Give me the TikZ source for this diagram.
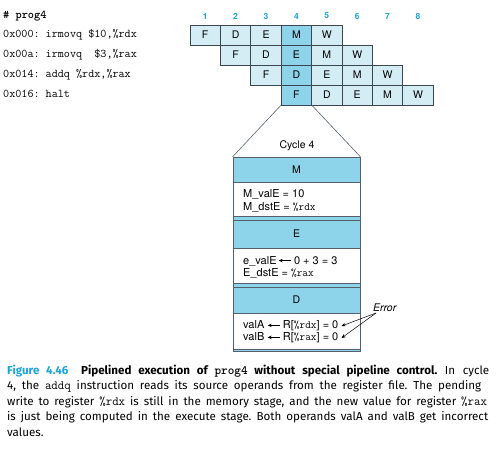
\documentclass[tikz,border=0pt]{standalone}
\usepackage{fontspec}
\setsansfont{TeX Gyre Heros}
\newfontfamily\capfont{Fira Sans}
\usetikzlibrary{arrows.meta}
\definecolor{cellL}{HTML}{D4EDF4}
\definecolor{cellD}{HTML}{8DD3E9}
\definecolor{cyanT}{HTML}{1BA3DB}
\definecolor{lineC}{HTML}{3A4650}
\definecolor{boxC}{HTML}{55606A}
\newcommand\larr{\tikz[baseline=-0.6ex]\draw[line width=0.5pt,-{Stealth[length=4pt,width=3.5pt]}](12pt,0pt)--(0pt,0pt);}
\newcommand\captt[1]{{\ttfamily\fontsize{12.6}{13}\selectfont #1}}
\begin{document}
\frenchspacing
\begin{tikzpicture}[x=1pt,y=-1pt,
  cell/.style={draw=lineC,line width=0.8pt,fill=cellL,minimum width=30.4pt,minimum height=20pt,inner sep=0pt,font=\sffamily\fontsize{10.5}{12}\selectfont},
  hot/.style={cell,fill=cellD},
  num/.style={text=cyanT,font=\sffamily\bfseries\fontsize{8.5}{10}\selectfont},
  code/.style={anchor=west,inner sep=0pt,font=\ttfamily\fontsize{11.8}{13}\selectfont},
  sect/.style={draw=boxC,line width=0.6pt,minimum width=127pt,inner sep=0pt,font=\sffamily\fontsize{10.5}{12}\selectfont},
  hdr/.style={sect,fill=cellD},
  wht/.style={sect,fill=white},
  val/.style={anchor=west,inner sep=0pt,font=\sffamily\fontsize{11}{12}\selectfont},
  capl/.style={anchor=base west,inner sep=0pt,font=\capfont\fontsize{11.6}{13}\selectfont}
]
\useasboundingbox (0,0) rectangle (497,461);
% program
\node[code,font=\ttfamily\bfseries\fontsize{11.8}{13}\selectfont] (title) at (3,16) {\# prog4};
\node[code] (l1) at (3,35) {0x000: irmovq \$10,\%rdx};
\node[code] (l2) at (3,55) {0x00a: irmovq\ \ \$3,\%rax};
\node[code] (l3) at (3,75) {0x014: addq \%rdx,\%rax};
\node[code] (l4) at (3,94) {0x016: halt};
% cycle numbers
\foreach \c in {1,...,8} \node[num] (n\c) at ({190+(\c-0.5)*30.4},16) {\c};
% pipeline grid
\foreach \r in {1,...,4}{
  \foreach \s [count=\k from 0] in {F,D,E,M,W}{
    \pgfmathtruncatemacro\cc{\r+\k}
    \ifnum\cc=4
      \node[hot] (r\r c\cc) at ({190+(\cc-0.5)*30.4},{15+20*\r}) {\s};
    \else
      \node[cell] (r\r c\cc) at ({190+(\cc-0.5)*30.4},{15+20*\r}) {\s};
    \fi
  }
}
% expanded cycle 4 box
\node[font=\sffamily\fontsize{10.5}{12}\selectfont] (cyc) at (297,146) {Cycle 4};
\node[hdr,minimum height=25pt] (mh) at (296.5,169.5) {M};
\node[wht,minimum height=34pt] (mv) at (296.5,199) {};
\node[hdr,minimum height=4pt] (s1) at (296.5,218) {};
\node[hdr,minimum height=28pt] (eh) at (296.5,234) {E};
\node[wht,minimum height=35pt] (ev) at (296.5,265.5) {};
\node[hdr,minimum height=4pt] (s2) at (296.5,285) {};
\node[hdr,minimum height=26pt] (dh) at (296.5,300) {D};
\node[wht,minimum height=36pt] (dv) at (296.5,331) {};
\node[hdr,minimum height=2pt] (s3) at (296.5,350) {};
\draw[boxC,line width=0.6pt] (r4c4.south west) -- (mh.north west);
\draw[boxC,line width=0.6pt] (r4c4.south east) -- (mh.north east);
% values
\node[val] (t1) at (243,194) {M\_valE = 10};
\node[val] (t2) at (243,207) {M\_dstE = {\ttfamily\%rdx}};
\node[val] (t3) at (243,261) {e\_valE\,\larr\ 0 + 3 = 3};
\node[val] (t4) at (243,273.5) {E\_dstE = {\ttfamily\%rax}};
\node[val] (t5) at (243,326) {valA \larr\ R[{\ttfamily\%rdx}] = 0};
\node[val] (t6) at (243,338) {valB \larr\ R[{\ttfamily\%rax}] = 0};
% error
\node[anchor=west,inner sep=0pt,font=\sffamily\itshape\fontsize{10.5}{12}\selectfont] (err) at (373,308) {Error};
\coordinate (eo) at (376,313);
\draw[line width=0.5pt,-{Stealth[length=4pt,width=3.5pt]}] (eo) -- ([xshift=3pt]t5.east);
\draw[line width=0.5pt,-{Stealth[length=4pt,width=3.5pt]}] (eo) -- ([xshift=3pt]t6.east);
% caption
\node[capl] (c1) at (7,374) {\makebox[482pt][s]{{\bfseries\color{cyanT}Figure 4.46}\hspace{1.1em}{\bfseries Pipelined execution of \captt{prog4} without special pipeline control.} In cycle}};
\node[capl] (c2) at (7,389.6) {\makebox[474pt][s]{4, the \captt{addq} instruction reads its source operands from the register file. The pending}};
\node[capl] (c3) at (7,405.2) {\makebox[480pt][s]{write to register \captt{\%rdx} is still in the memory stage, and the new value for register \captt{\%rax}}};
\node[capl] (c4) at (7,420.8) {\makebox[481pt][s]{is just being computed in the execute stage. Both operands valA and valB get incorrect}};
\node[capl] (c5) at (7,436.4) {values.};
\end{tikzpicture}
\end{document}
